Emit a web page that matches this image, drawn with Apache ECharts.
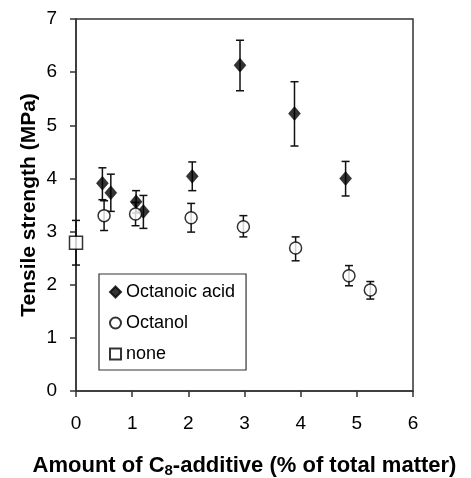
<!DOCTYPE html>
<html>
<head>
<meta charset="utf-8">
<script src="https://cdn.jsdelivr.net/npm/echarts@6/dist/echarts.min.js"></script>
<style>html,body{margin:0;padding:0;background:#fff}#c{width:471px;height:478px}</style>
</head>
<body>
<div id="c"></div>
<script>
// Octanoic acid
var acidX  = [0.47, 0.62, 1.07, 1.20, 2.07, 2.92, 3.89, 4.80];
var acidY  = [3.91, 3.73, 3.56, 3.38, 4.04, 6.13, 5.22, 4.00];
var acidLo = [3.60, 3.38, 3.35, 3.06, 3.77, 5.65, 4.61, 3.67];
var acidHi = [4.20, 4.08, 3.77, 3.68, 4.31, 6.60, 5.82, 4.32];
// Octanol
var olX  = [0.50, 1.06, 2.05, 2.98, 3.91, 4.86, 5.24];
var olY  = [3.30, 3.33, 3.26, 3.09, 2.69, 2.17, 1.90];
var olLo = [3.02, 3.11, 2.99, 2.90, 2.45, 1.98, 1.73];
var olHi = [3.58, 3.55, 3.53, 3.30, 2.90, 2.36, 2.06];
// none
var noneX  = [0];
var noneY  = [2.79];
var noneLo = [2.37];
var noneHi = [3.21];

var seriesNames = ['Octanoic acid', 'Octanol', 'none'];
var xTicks = [0, 1, 2, 3, 4, 5, 6];
var yTicks = [0, 1, 2, 3, 4, 5, 6, 7];

function pts(xs, ys) { return xs.map(function (x, i) { return [x, ys[i]]; }); }
function errs(xs, lo, hi) { return xs.map(function (x, i) { return [x, lo[i], hi[i]]; }); }

function renderErr(params, api) {
  var x = api.value(0), lo = api.value(1), hi = api.value(2);
  var t = api.coord([x, hi]), b = api.coord([x, lo]);
  var hw = 4;
  var st = { stroke: '#111', lineWidth: 1.5 };
  return { type: 'group', children: [
    { type: 'line', shape: { x1: t[0], y1: t[1], x2: b[0], y2: b[1] }, style: st },
    { type: 'line', shape: { x1: t[0] - hw, y1: t[1], x2: t[0] + hw, y2: t[1] }, style: st },
    { type: 'line', shape: { x1: b[0] - hw, y1: b[1], x2: b[0] + hw, y2: b[1] }, style: st }
  ]};
}

var font = 'Liberation Sans, Arial, sans-serif';
var axisCol = '#333';

var chart = echarts.init(document.getElementById('c'), null, { renderer: 'canvas' });
chart.setOption({
  animation: false,
  backgroundColor: '#fff',
  grid: { left: 76, top: 19, right: 58, bottom: 87, outerBoundsMode: 'none', containLabel: false,
    show: true, borderColor: axisCol, borderWidth: 1.5, backgroundColor: 'transparent' },
  legend: {
    data: seriesNames,
    orient: 'vertical',
    left: 99, top: 274,
    borderColor: '#333', borderWidth: 1.2, borderRadius: 0,
    padding: [9, 11, 7, 10],
    itemGap: 13,
    itemWidth: 11, itemHeight: 11,
    textStyle: { fontFamily: font, fontSize: 18, color: '#000' }
  },
  xAxis: {
    type: 'value', min: 0, max: 6, interval: 1,
    splitLine: { show: false },
    axisLine: { lineStyle: { color: axisCol, width: 1.5 } },
    axisTick: { length: 6, lineStyle: { color: axisCol, width: 1.5 } },
    axisLabel: { fontFamily: font, fontSize: 19, color: '#000', margin: 23,
      formatter: function (v) { return xTicks.indexOf(v) >= 0 ? String(v) : ''; } },
    name: 'Amount of C{sub|8}-additive (% of total matter)',
    nameLocation: 'middle', nameGap: 62, nameMoveOverlap: false,
    nameTextStyle: { fontFamily: font, fontSize: 22, fontWeight: 'bold', color: '#000',
      rich: { sub: { fontFamily: font, fontSize: 15, fontWeight: 'bold', color: '#000', padding: [10, 0, 0, 0] } } }
  },
  yAxis: {
    type: 'value', min: 0, max: 7, interval: 1,
    splitLine: { show: false },
    axisLine: { lineStyle: { color: axisCol, width: 1.5 } },
    axisTick: { length: 6, lineStyle: { color: axisCol, width: 1.5 } },
    axisLabel: { fontFamily: font, fontSize: 19, color: '#000', margin: 19,
      formatter: function (v) { return yTicks.indexOf(v) >= 0 ? String(v) : ''; } },
    name: 'Tensile strength (MPa)',
    nameLocation: 'middle', nameGap: 36, nameRotate: 90, nameMoveOverlap: false,
    nameTextStyle: { fontFamily: font, fontSize: 21, fontWeight: 'bold', color: '#000' }
  },
  series: [
    { type: 'custom', renderItem: renderErr, data: errs(acidX, acidLo, acidHi), z: 2, clip: false, silent: true },
    { type: 'custom', renderItem: renderErr, data: errs(olX, olLo, olHi), z: 2, clip: false, silent: true },
    { type: 'custom', renderItem: renderErr, data: errs(noneX, noneLo, noneHi), z: 2, clip: false, silent: true },
    { name: seriesNames[0], type: 'scatter', data: pts(acidX, acidY), symbol: 'diamond', symbolSize: [12, 14],
      itemStyle: { color: '#000', borderColor: '#000', borderWidth: 0.5 }, z: 5, clip: false },
    { name: seriesNames[1], type: 'scatter', data: pts(olX, olY), symbol: 'circle', symbolSize: 12,
      itemStyle: { color: '#fff', borderColor: '#000', borderWidth: 1.5 }, z: 5, clip: false },
    { name: seriesNames[2], type: 'scatter', data: pts(noneX, noneY), symbol: 'rect', symbolSize: 13,
      itemStyle: { color: '#fff', borderColor: '#000', borderWidth: 1.5 }, z: 5, clip: false }
  ]
});
</script>
</body>
</html>
